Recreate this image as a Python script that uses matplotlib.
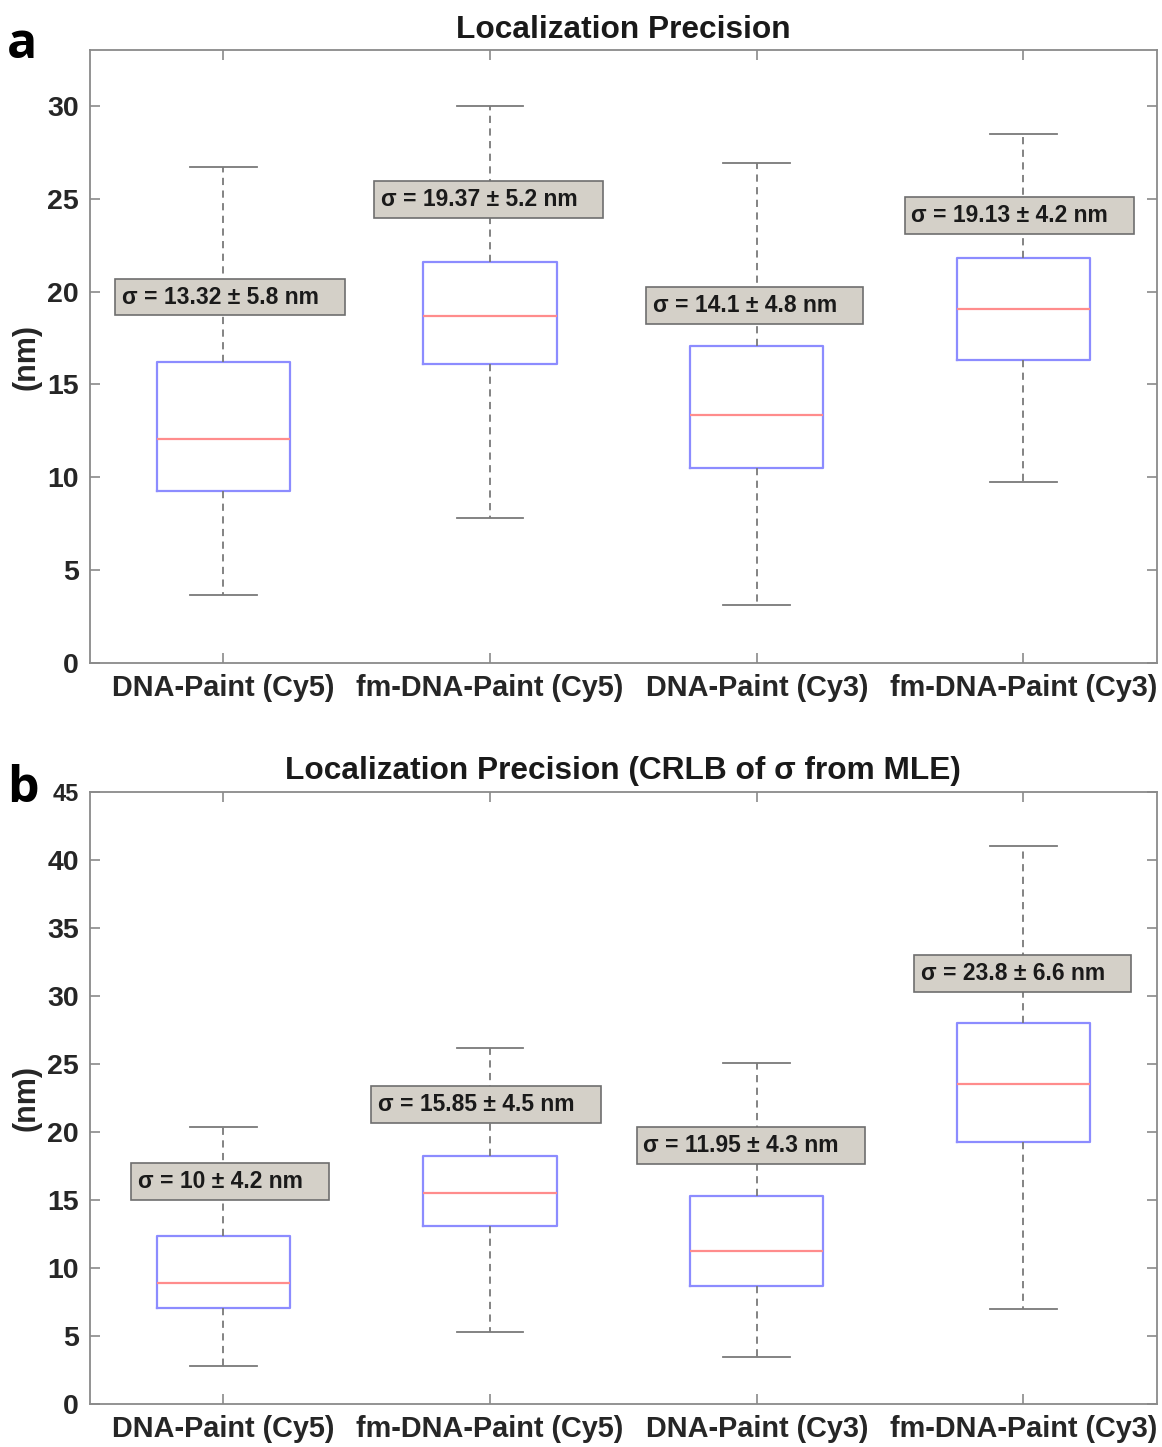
import matplotlib
matplotlib.use('Agg')
import matplotlib.pyplot as plt

plt.rcParams['font.family'] = ['Liberation Sans', 'DejaVu Sans']
plt.rcParams['font.weight'] = 'bold'

# 类别
categories = ['DNA-Paint (Cy5)', 'fm-DNA-Paint (Cy5)', 'DNA-Paint (Cy3)', 'fm-DNA-Paint (Cy3)']

# 面板 a：箱线图统计值（下须、Q1、中位数、Q3、上须）
a_whislo = [3.66, 7.8, 3.12, 9.75]
a_q1 = [9.25, 16.1, 10.5, 16.3]
a_med = [12.05, 18.7, 13.35, 19.05]
a_q3 = [16.2, 21.6, 17.05, 21.8]
a_whishi = [26.7, 30.0, 26.9, 28.5]
a_labels = ['σ = 13.32 ± 5.8 nm', 'σ = 19.37 ± 5.2 nm', 'σ = 14.1 ± 4.8 nm', 'σ = 19.13 ± 4.2 nm']
a_label_y = [19.7, 24.95, 19.25, 24.1]

# 面板 b
b_whislo = [2.8, 5.3, 3.46, 7.0]
b_q1 = [7.06, 13.1, 8.68, 19.26]
b_med = [8.9, 15.55, 11.25, 23.55]
b_q3 = [12.35, 18.2, 15.3, 28.0]
b_whishi = [20.35, 26.2, 25.05, 41.0]
b_labels = ['σ = 10 ± 4.2 nm', 'σ = 15.85 ± 4.5 nm', 'σ = 11.95 ± 4.3 nm', 'σ = 23.8 ± 6.6 nm']
b_label_y = [16.35, 22.0, 19.0, 31.65]

label_x_a = [0.62, 1.59, 2.61, 3.58]
label_x_b = [0.68, 1.58, 2.575, 3.615]

fig = plt.figure(figsize=(11.62, 14.47), dpi=100)
ax_a = fig.add_axes([0.0775, 0.5418, 0.918, 0.4236])
ax_b = fig.add_axes([0.0775, 0.0297, 0.918, 0.4230])

spine_col = '#8a8a8a'


def draw_panel(ax, whislo, q1, med, q3, whishi, labels, label_x, label_y, title, ymax, yticks):
    stats = []
    for i in range(len(categories)):
        stats.append({'whislo': whislo[i], 'q1': q1[i], 'med': med[i],
                      'q3': q3[i], 'whishi': whishi[i], 'fliers': []})
    ax.bxp(stats, positions=range(1, 5), widths=0.5, showfliers=False,
           boxprops=dict(color='#8c8cff', linewidth=1.6),
           medianprops=dict(color='#ff8c8c', linewidth=1.6),
           whiskerprops=dict(color='#7a7a7a', linestyle=(0, (4, 3)), linewidth=1.3),
           capprops=dict(color='#7a7a7a', linewidth=1.3),
           capwidths=0.25)
    for x, y, s in zip(label_x, label_y, labels):
        ax.text(x, y, s + '   ', ha='left', va='center', fontsize=16.5, fontweight='bold',
                color='#1a1a1a', zorder=5,
                bbox=dict(boxstyle='square,pad=0.3', facecolor='#d4d0c8',
                          edgecolor='#6e6e6e', linewidth=1.2))
    ax.set_xlim(0.5, 4.5)
    ax.set_ylim(0, ymax)
    ax.set_xticks(range(1, 5))
    ax.set_xticklabels(categories, fontsize=20.8, fontweight='bold', color='#262626')
    ax.set_yticks(yticks)
    ax.set_yticklabels([str(t) for t in yticks], fontsize=20.5, fontweight='bold', color='#262626')
    ax.tick_params(direction='in', length=7, width=1.2, color=spine_col,
                   top=True, right=True, pad=8)
    for sp in ax.spines.values():
        sp.set_color(spine_col)
        sp.set_linewidth(1.3)
    ax.set_ylabel('(nm)', fontsize=22, fontweight='bold', color='#262626', labelpad=4)
    ax.set_title(title, fontsize=22.8, fontweight='bold', color='#1a1a1a', pad=9)


draw_panel(ax_a, a_whislo, a_q1, a_med, a_q3, a_whishi, a_labels, label_x_a, a_label_y,
           'Localization Precision', 33, [0, 5, 10, 15, 20, 25, 30])
draw_panel(ax_b, b_whislo, b_q1, b_med, b_q3, b_whishi, b_labels, label_x_b, b_label_y,
           'Localization Precision (CRLB of σ from MLE)', 45, [0, 5, 10, 15, 20, 25, 30, 35, 40, 45])

# 顶部刻度标签 45 较小
ax_b.get_yticklabels()[-1].set_fontsize(17)

fig.text(0.006, 0.969, 'a', fontsize=36, fontweight='bold', family='Open Sans', va='center')
fig.text(0.006, 0.455, 'b', fontsize=36, fontweight='bold', family='Open Sans', va='center')

fig.savefig('out.png', dpi=100)
